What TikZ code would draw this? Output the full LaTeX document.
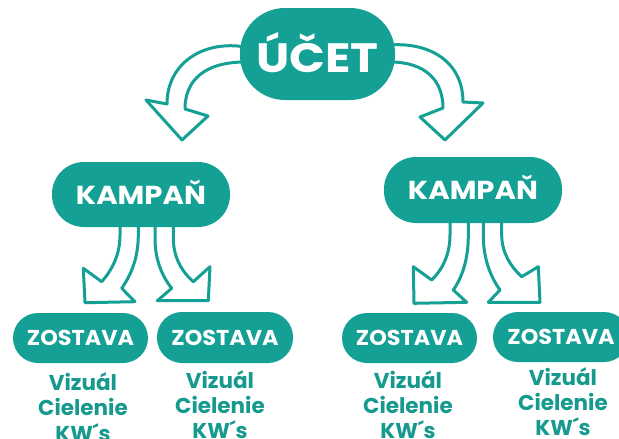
\documentclass[tikz,border=0pt]{standalone}
\usepackage{fontspec}
\setmainfont{Poppins}
\newfontfamily\wideA{Poppins}[FakeStretch=1.15]
\newfontfamily\wideB{Poppins}[FakeStretch=1.12]
\newfontfamily\wideC{Poppins}[FakeStretch=1.04]
\definecolor{tealA}{RGB}{20,160,148}
\definecolor{tealT}{RGB}{22,154,142}
\tikzset{
  pill/.style={fill=tealA, text=white, inner sep=0pt, font=\bfseries},
  arrowshape/.style={fill=white, draw=tealA, line width=3pt, line join=round},
  subtext/.style={text=tealT, inner sep=0pt, anchor=base, font=\bfseries\fontsize{21.5}{25}\selectfont}
}
\begin{document}
\begin{tikzpicture}[x=1pt,y=-1pt]
\useasboundingbox[fill=white] (0,0) rectangle (619,439);
% top arrows
\draw[arrowshape] (255,47) -- (245,47) .. controls (205,40) and (167,62) .. (167,104) -- (146,100) -- (182,140) -- (208,116) -- (185,109) .. controls (185,80) and (205,62) .. (245,62) -- (255,62) -- cycle;
\draw[arrowshape] (380,45) -- (390,45) .. controls (430,42) and (463,62) .. (463,102) -- (483,103) -- (445,140) -- (420,117) -- (443,108) .. controls (443,80) and (425,62) .. (390,62) -- (380,62) -- cycle;
% left kampan arrows
\draw[arrowshape] (120,215) -- (120,235) .. controls (120,255) and (112,270) .. (101.7,281.7) -- (83.3,268.3) -- (85,302.7) -- (135,301.7) -- (121.7,288.3) .. controls (131,275) and (138.3,258) .. (138.3,235) -- (138.3,215) -- cycle;
\draw[arrowshape] (155,215) -- (155,238) .. controls (155,260) and (162,276) .. (171.7,288.3) -- (157.3,300.7) -- (208.3,300.7) -- (210,266.7) -- (193.3,281.7) .. controls (180,270) and (173.3,255) .. (173.3,238) -- (173.3,215) -- cycle;
% right kampan arrows
\draw[arrowshape] (450,212) -- (450,235) .. controls (450,255) and (442,270) .. (431.7,280) -- (413.3,266.7) -- (414,303.3) -- (466.7,302.3) -- (453.3,290) .. controls (463,276) and (468.3,258) .. (468.3,235) -- (468.3,212) -- cycle;
\draw[arrowshape] (483.3,212) -- (483.3,235) .. controls (483.3,258) and (490,276) .. (500,290) -- (488.3,302.3) -- (540,302.3) -- (538.3,266.7) -- (521.7,276.7) .. controls (510,266) and (501.7,252) .. (501.7,235) -- (501.7,212) -- cycle;
% pills
\node[pill, minimum width=155pt, minimum height=92pt, rounded corners=45pt, font=\wideA\bfseries\fontsize{41}{41}\selectfont, text height=36pt, text depth=0pt] (ucet) at (317.5,54) {ÚČET};
\node[pill, minimum width=178pt, minimum height=65pt, rounded corners=32pt, font=\wideB\bfseries\fontsize{26}{26}\selectfont, text height=19pt, text depth=0pt] (kampL) at (141,194.5) {KAMPAŇ};
\node[pill, minimum width=178pt, minimum height=66pt, rounded corners=32pt, font=\wideB\bfseries\fontsize{26}{26}\selectfont, text height=19pt, text depth=0pt] (kampR) at (473,190) {KAMPAŇ};
\node[pill, minimum width=135pt, minimum height=50pt, rounded corners=25pt, font=\wideC\bfseries\fontsize{21.5}{21.5}\selectfont, text height=15pt, text depth=0pt] (z1) at (80.5,338) {ZOSTAVA};
\node[pill, minimum width=136pt, minimum height=51pt, rounded corners=25pt, font=\wideC\bfseries\fontsize{21.5}{21.5}\selectfont, text height=15pt, text depth=0pt] (z2) at (225,337.5) {ZOSTAVA};
\node[pill, minimum width=135pt, minimum height=50pt, rounded corners=25pt, font=\wideC\bfseries\fontsize{21.5}{21.5}\selectfont, text height=15pt, text depth=0pt] (z3) at (409.5,338) {ZOSTAVA};
\node[pill, minimum width=136pt, minimum height=50pt, rounded corners=25pt, font=\wideC\bfseries\fontsize{21.5}{21.5}\selectfont, text height=15pt, text depth=0pt] (z4) at (561,337) {ZOSTAVA};
% sub texts
\node[subtext] (v1) at (83,390) {Vizuál};
\node[subtext] (c1) at (83,415) {Cielenie};
\node[subtext] (k1) at (83,441) {KW´s};
\node[subtext] (v2) at (220,388) {Vizuál};
\node[subtext] (c2) at (220,413) {Cielenie};
\node[subtext] (k2) at (220,438) {KW´s};
\node[subtext] (v3) at (408,388) {Vizuál};
\node[subtext] (c3) at (408,413) {Cielenie};
\node[subtext] (k3) at (408,438) {KW´s};
\node[subtext] (v4) at (563,385) {Vizuál};
\node[subtext] (c4) at (563,410) {Cielenie};
\node[subtext] (k4) at (563,435) {KW´s};
\end{tikzpicture}
\end{document}
